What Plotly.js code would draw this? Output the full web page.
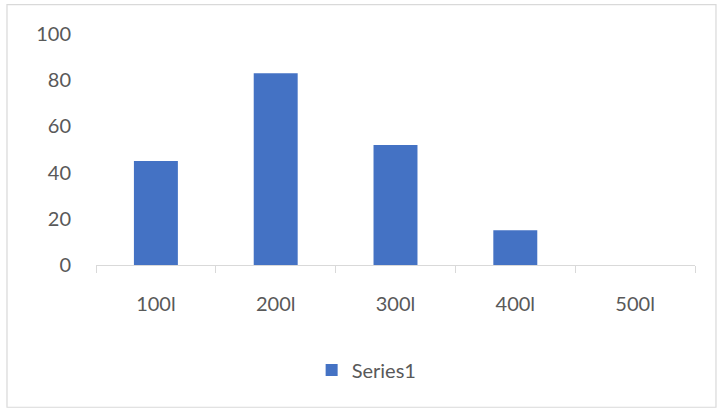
<!DOCTYPE html>
<html><head><meta charset="utf-8">
<script src="https://cdn.plot.ly/plotly-3.0.1.min.js"></script>
<style>html,body{margin:0;padding:0;background:#fff}#chart{width:718px;height:409px}</style>
</head><body><div id="chart"></div>
<script>
const categories = ["100l", "200l", "300l", "400l", "500l"];
const seriesName = "Series1";
const values = [45, 83, 52, 15, 0];
const yTicks = [0, 20, 40, 60, 80, 100];

const trace = {
  type: "bar", x: categories, y: values, name: seriesName,
  marker: {color: "#4472C4"}, showlegend: true, hoverinfo: "none"
};
const font = {family: "Lato, 'Open Sans', sans-serif", size: 20, color: "#595959"};
const layout = {
  width: 718, height: 409,
  margin: {l: 96, r: 23, t: 34, b: 144},
  paper_bgcolor: "#fff", plot_bgcolor: "#fff",
  font: font,
  bargap: 0.633,
  xaxis: {
    type: "category", showgrid: false, zeroline: false,
    showline: true, linecolor: "#d9d9d9", linewidth: 1,
    ticks: "outside", tickson: "boundaries", ticklen: 7, tickcolor: "#d9d9d9",
    ticklabelstandoff: 21, tickfont: font
  },
  yaxis: {
    range: [0, 100], tickvals: yTicks, showgrid: false, zeroline: false,
    showline: false, ticks: "outside", ticklen: 20, tickcolor: "rgba(0,0,0,0)",
    tickfont: font
  },
  legend: {orientation: "h", x: 0.36, xanchor: "left", y: -0.455, yanchor: "middle",
    font: font, bgcolor: "rgba(0,0,0,0)"},
  shapes: [{type: "rect", xref: "paper", yref: "paper",
    x0: -0.1486, x1: 1.035, y0: -0.6158, y1: 1.1275,
    line: {color: "#d9d9d9", width: 1.2}, fillcolor: "rgba(0,0,0,0)"}]
};
Plotly.newPlot("chart", [trace], layout, {displayModeBar: false, staticPlot: true});
</script></body></html>
